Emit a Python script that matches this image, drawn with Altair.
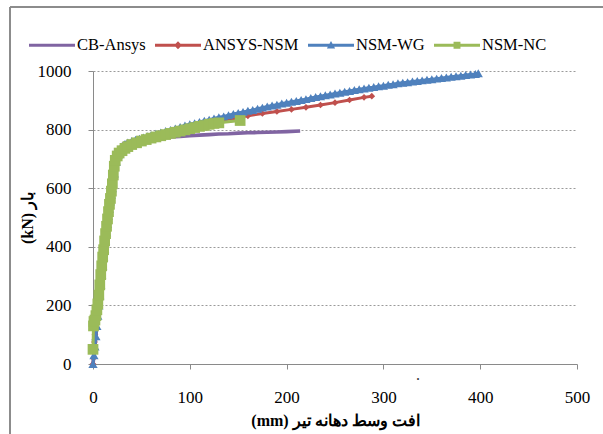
import altair as alt
import pandas as pd

# ---- series (mid-span deflection in mm, load in kN) ----
cb_x = [0, 2, 4, 6, 8, 10, 12, 14, 16, 18, 20, 22, 24, 26, 28, 30, 33, 36, 40, 45, 50,
        60, 70, 80, 90, 100, 110, 120, 130, 140, 150, 160, 170, 180, 190, 200, 214]
cb_y = [0, 60, 130, 200, 270, 335, 395, 450, 505, 555, 600, 650, 690, 714, 735, 748, 755, 758, 760, 762, 765,
        769, 772, 775, 777, 779, 781, 783, 785, 786, 788, 789, 790, 791, 792, 793, 795]

ansys_x = [0, 0.5, 1, 1.5, 2, 3, 4, 6, 8, 10, 12, 14, 16, 18, 20, 22, 24, 27, 30, 35, 40, 50,
           60, 70, 85, 100, 115, 130, 145, 160, 175, 190, 205, 220, 235, 250, 265, 280, 288]
ansys_y = [0, 20, 45, 75, 100, 125, 150, 200, 270, 335, 395, 450, 505, 555, 600, 650, 690, 722, 738, 750, 757, 766,
           775, 785, 797, 810, 821, 830, 839, 847, 855, 862, 869, 876, 884, 892, 901, 910, 914]

wg_x = [0, 1, 2, 3, 4, 5, 6, 7, 8, 9, 10, 11, 12, 13, 14, 15, 16, 17, 18, 19, 20, 22, 24, 26, 28, 30,
        33, 36, 40, 44, 48, 52, 56, 60, 65, 70, 75, 80, 85, 90, 95,
        100, 105, 110, 115, 120, 125, 130, 135, 140, 145, 150, 155, 160, 165, 170, 175, 180, 185, 190, 195,
        200, 205, 210, 215, 220, 225, 230, 235, 240, 245, 250, 255, 260, 265, 270, 275, 280, 285, 290, 295,
        300, 305, 310, 315, 320, 325, 330, 335, 340, 345, 350, 355, 360, 365, 370, 375, 380, 385, 390, 395, 398]
wg_y = [0, 30, 60, 95, 130, 165, 200, 235, 270, 305, 335, 365, 395, 422, 450, 478, 505, 530, 555, 578, 600, 650, 690, 714, 730, 742,
        751, 756, 761, 765, 769, 773, 777, 781, 786, 790, 795, 799, 804, 809, 814,
        818, 822, 826, 830, 834, 838, 842, 845, 849, 853, 857, 860, 864, 867, 871, 875, 879, 882, 885, 889,
        892, 895, 898, 901, 904, 908, 911, 914, 917, 920, 923, 926, 929, 932, 935, 938, 940, 943, 945, 948,
        950, 953, 955, 958, 960, 962, 964, 966, 968, 970, 972, 974, 976, 978, 980, 982, 984, 986, 988, 990, 992]

nc_x = [0, 0.5, 1, 2, 3, 4, 5, 6, 7, 8, 9, 10, 11, 12, 13, 14, 15, 16, 17, 18, 19, 20, 21, 22, 23, 25, 27,
        30, 33, 36, 40, 45, 50, 55, 60, 65, 70, 75, 80, 85, 90, 95, 100, 105, 110, 115, 120, 125, 130, 152]
nc_y = [50, 130, 145, 150, 165, 185, 205, 235, 270, 305, 335, 365, 390, 420, 445, 470, 495, 520, 545, 565, 590, 615, 645, 675, 695, 710, 720,
        728, 736, 742, 749, 755, 761, 766, 771, 775, 779, 783, 787, 791, 795, 799, 803, 807, 811, 814, 818, 821, 823, 831]

names = ["CB-Ansys", "ANSYS-NSM", "NSM-WG", "NSM-NC"]
colors = ["#8064A2", "#C0504D", "#4F81BD", "#9BBB59"]
markers = [None, "diamond", "triangle-up", "square"]
marker_sizes = [0, 45, 85, 115]
xs = [cb_x, ansys_x, wg_x, nc_x]
ys = [cb_y, ansys_y, wg_y, nc_y]

# legend glyphs: a short bar with the series marker in the middle
bar = "M-1,-0.06H1V0.06H-1Z"
legend_paths = [
    bar,
    bar + " M0,-0.17L0.17,0L0,0.17L-0.17,0Z",
    bar + " M0,-0.18L0.18,0.14L-0.18,0.14Z",
    bar + " M-0.15,-0.15H0.15V0.15H-0.15Z",
]

SERIF = "Liberation Serif"
AXIS_GRAY = "#8a8a8a"

x_scale = alt.Scale(domain=[0, 500], nice=False)
y_scale = alt.Scale(domain=[0, 1000], nice=False)

x_axis = alt.Axis(values=[0, 100, 200, 300, 400, 500], grid=False, tickSize=5, format="d",
                  labelFlush=False, labelPadding=20, labelFontSize=17, labelFont=SERIF,
                  title="(mm) افت وسط دهانه تیر", titleFont=SERIF, titleFontSize=16,
                  titleFontWeight="bold", titlePadding=7)
y_axis = alt.Axis(values=[0, 200, 400, 600, 800, 1000], grid=True, tickSize=5, format="d",
                  labelFlush=False, labelPadding=17, labelFontSize=17, labelFont=SERIF,
                  title="(kN) بار", titleFont=SERIF, titleFontSize=16,
                  titleFontWeight="bold", titlePadding=2)

layers = []
for i, name in enumerate(names):
    df = pd.DataFrame({"x": xs[i], "y": ys[i], "series": name})
    base = alt.Chart(df)
    enc = dict(x=alt.X("x:Q", scale=x_scale, axis=x_axis),
               y=alt.Y("y:Q", scale=y_scale, axis=y_axis))
    layers.append(base.mark_line(color=colors[i], strokeWidth=3.6 if i == 0 else 3).encode(**enc))
    if markers[i]:
        layers.append(base.mark_point(shape=markers[i], filled=True, opacity=1,
                                      color=colors[i], size=marker_sizes[i]).encode(**enc))

# legend carrier: one row per series, itself invisible
legend_df = pd.DataFrame({"x": [v[0] for v in xs], "y": [v[0] for v in ys], "series": names})
legend_spec = dict(orient="none", legendX=-64, legendY=-49, direction="horizontal",
                   columns=4, title=None, symbolSize=2116, symbolOpacity=1,
                   symbolStrokeWidth=0, labelFont=SERIF, labelFontSize=16.5,
                   labelColor="#000000", labelOffset=2, columnPadding=9)
legend_layer = alt.Chart(legend_df).mark_point(filled=True, opacity=0).encode(
    x=alt.X("x:Q", scale=x_scale),
    y=alt.Y("y:Q", scale=y_scale),
    color=alt.Color("series:N", scale=alt.Scale(domain=names, range=colors),
                    legend=alt.Legend(**legend_spec)),
    shape=alt.Shape("series:N", scale=alt.Scale(domain=names, range=legend_paths),
                    legend=alt.Legend(**legend_spec)),
)

# chart-area frame (left and top edges)
frame_df = pd.DataFrame({"k": [0]})
frame_left = alt.Chart(frame_df).mark_rule(color="#8c8c8c", strokeWidth=2).encode(
    x=alt.value(-83), y=alt.value(-64), y2=alt.value(420))
frame_top = alt.Chart(frame_df).mark_rule(color="#8c8c8c", strokeWidth=2).encode(
    x=alt.value(-83), x2=alt.value(560), y=alt.value(-64))
dot = alt.Chart(frame_df).mark_text(text=".", fontSize=16, font=SERIF, color="#333333").encode(
    x=alt.value(325), y=alt.value(304))

chart = alt.layer(frame_left, frame_top, dot, *layers, legend_layer).resolve_scale(
    color="independent", shape="independent"
).properties(
    width=484, height=293,
    autosize=alt.AutoSizeParams(type="none"),
    padding={"left": 93, "top": 71, "right": 26, "bottom": 70},
    background="white",
).configure_axis(
    domainColor=AXIS_GRAY, tickColor=AXIS_GRAY, gridColor="#9a9a9a",
    gridDash=[2, 2], gridWidth=1, labelColor="#000000", titleColor="#000000",
).configure_axisY(
    labelAlign="right",
).configure_view(stroke=None)

chart.save("out.html", embed_options={"renderer": "svg", "actions": False})
